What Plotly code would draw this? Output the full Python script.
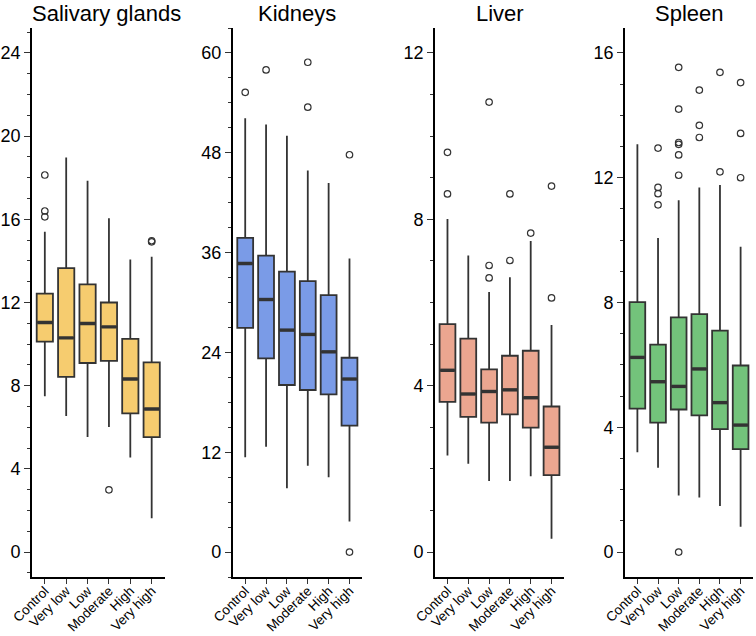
import plotly.graph_objects as go

categories = ["Control", "Very low", "Low", "Moderate", "High", "Very high"]
panel_titles = ["Salivary glands", "Kidneys", "Liver", "Spleen"]
fill_colors = ["#F6CC6F", "#7A9BE7", "#EBA690", "#73C37B"]

# Salivary glands
sal_q1 = [10.12, 8.42, 9.09, 9.19, 6.67, 5.53]
sal_med = [11.04, 10.30, 10.99, 10.83, 8.32, 6.88]
sal_q3 = [12.43, 13.65, 12.87, 12.00, 10.25, 9.12]
sal_lo = [7.49, 6.54, 5.53, 6.01, 4.55, 1.62]
sal_hi = [15.40, 18.97, 17.85, 16.05, 14.07, 14.20]
sal_out = [[18.13, 16.40, 16.12], [], [], [2.99], [], [14.92, 14.97]]

# Kidneys
kid_q1 = [26.95, 23.28, 20.08, 19.48, 18.96, 15.20]
kid_med = [34.68, 30.36, 26.68, 26.16, 24.07, 20.80]
kid_q3 = [37.76, 35.64, 33.72, 32.56, 30.88, 23.36]
kid_lo = [11.40, 12.67, 7.68, 10.36, 9.00, 3.68]
kid_hi = [52.15, 51.40, 50.04, 45.88, 44.36, 35.28]
kid_out = [[55.27], [57.96], [], [58.88, 53.48], [], [47.76, 0.0]]

# Liver
liv_q1 = [3.61, 3.25, 3.11, 3.31, 2.99, 1.85]
liv_med = [4.37, 3.80, 3.86, 3.90, 3.71, 2.52]
liv_q3 = [5.48, 5.13, 4.39, 4.72, 4.84, 3.50]
liv_lo = [2.32, 2.12, 1.71, 1.71, 1.82, 0.32]
liv_hi = [8.01, 7.13, 6.25, 6.61, 7.48, 5.46]
liv_out = [[9.61, 8.61], [], [10.82, 6.89, 6.59], [8.61, 7.01], [7.67], [8.80, 6.11]]

# Spleen
spl_q1 = [4.60, 4.15, 4.57, 4.38, 3.94, 3.30]
spl_med = [6.24, 5.46, 5.31, 5.87, 4.79, 4.07]
spl_q3 = [8.01, 6.65, 7.52, 7.63, 7.10, 5.98]
spl_lo = [3.20, 2.70, 1.81, 1.75, 1.48, 0.81]
spl_hi = [13.07, 10.07, 11.28, 11.69, 11.77, 9.79]
spl_out = [[], [12.95, 11.69, 11.49, 11.13],
           [15.54, 14.20, 13.13, 13.07, 12.73, 12.08, 0.0],
           [14.81, 13.68, 13.29], [15.38, 12.19], [15.05, 13.42, 12.00]]

panels = [
    (sal_q1, sal_med, sal_q3, sal_lo, sal_hi, sal_out),
    (kid_q1, kid_med, kid_q3, kid_lo, kid_hi, kid_out),
    (liv_q1, liv_med, liv_q3, liv_lo, liv_hi, liv_out),
    (spl_q1, spl_med, spl_q3, spl_lo, spl_hi, spl_out),
]
y_ranges = [[-1.2, 25.2], [-3, 63], [-0.6, 12.6], [-0.8, 16.8]]
y_dticks = [4, 12, 4, 4]
y_minor = [1, 3, 1, 1]

W, H = 756, 636
x_px = [(32, 164.5), (232.7, 362), (435, 564), (625, 753)]
title_cx = [106, 297, 500, 689]
y_top_px, y_bot_px = 28, 577

LINE = "#333333"
FONT = "Liberation Sans, Arial, sans-serif"
pos = list(range(1, len(categories) + 1))
box_w = 0.76

fig = go.Figure()
layout = dict(
    width=W, height=H, template="none", autosize=False,
    paper_bgcolor="white", plot_bgcolor="white",
    margin=dict(l=0, r=0, t=0, b=0, pad=0),
    showlegend=False,
    font=dict(family=FONT, color="black"),
)
annotations = []
for i, (q1, med, q3, lo, hi, outs) in enumerate(panels):
    n = "" if i == 0 else str(i + 1)
    xa, ya = "x" + n, "y" + n
    fig.add_trace(go.Box(
        x=pos, q1=q1, median=med, q3=q3, lowerfence=lo, upperfence=hi,
        fillcolor=fill_colors[i], line=dict(color=LINE, width=1.8),
        whiskerwidth=0, width=box_w, boxpoints=False,
        xaxis=xa, yaxis=ya, hoverinfo="skip",
    ))
    # thicker median lines
    mx, my = [], []
    for p, m in zip(pos, med):
        mx += [p - box_w / 2 + 0.03, p + box_w / 2 - 0.03, None]
        my += [m, m, None]
    fig.add_trace(go.Scatter(x=mx, y=my, mode="lines",
                             line=dict(color=LINE, width=3.4),
                             xaxis=xa, yaxis=ya, hoverinfo="skip"))
    ox, oy = [], []
    for p, o in zip(pos, outs):
        for v in o:
            ox.append(p)
            oy.append(v)
    fig.add_trace(go.Scatter(x=ox, y=oy, mode="markers",
                             marker=dict(symbol="circle-open", size=6.5,
                                         color=LINE, line=dict(width=1.2, color=LINE)),
                             xaxis=xa, yaxis=ya, hoverinfo="skip"))
    x0, x1 = x_px[i]
    layout["xaxis" + n] = dict(
        domain=[x0 / W, x1 / W], anchor=ya, range=[0.4, 6.6],
        tickmode="array", tickvals=pos, ticktext=categories, tickangle=-45,
        showline=True, linecolor="black", linewidth=1.6, mirror=False,
        ticks="outside", ticklen=5, tickwidth=1.4, tickcolor="#333333",
        ticklabelstandoff=-6,
        showgrid=False, zeroline=False, automargin=False,
        tickfont=dict(size=13.5, family=FONT, color="black"),
    )
    layout["yaxis" + n] = dict(
        domain=[(H - y_bot_px) / H, (H - y_top_px) / H], anchor=xa,
        range=y_ranges[i], tick0=0, dtick=y_dticks[i],
        showline=True, linecolor="black", linewidth=1.6,
        ticks="outside", ticklen=6, tickwidth=1.4, tickcolor="#333333",
        minor=dict(dtick=y_minor[i], tick0=0, ticks="outside", ticklen=3,
                   tickwidth=1.2, tickcolor="#333333", showgrid=False),
        showgrid=False, zeroline=False, automargin=False,
        tickfont=dict(size=18, family=FONT, color="black"),
    )
    annotations.append(dict(
        text=panel_titles[i], x=title_cx[i] / W, y=(H - 14) / H,
        xref="paper", yref="paper", xanchor="center", yanchor="middle",
        showarrow=False, font=dict(size=22, family=FONT, color="black"),
    ))
layout["annotations"] = annotations
fig.update_layout(**layout)
fig.write_html(
    "out.html",
    config={"displayModeBar": False},
    post_script="document.body.style.margin='0';document.body.style.padding='0';document.body.style.overflow='hidden';",
)
